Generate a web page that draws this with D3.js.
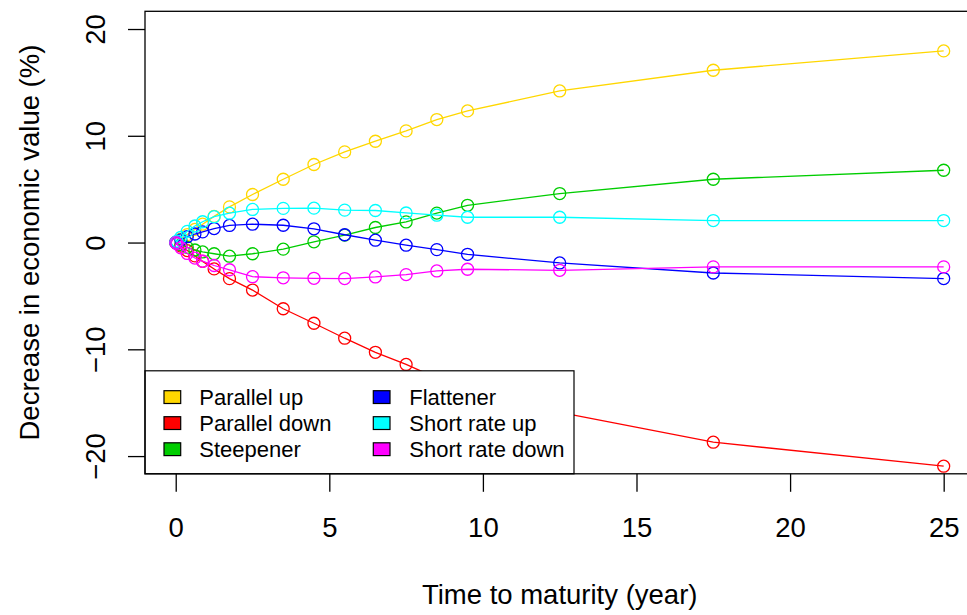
<!DOCTYPE html>
<html>
<head>
<meta charset="utf-8">
<script src="https://cdn.jsdelivr.net/npm/d3@7"></script>
<style>
  html, body { margin: 0; padding: 0; background: #fff; }
  svg { display: block; font-family: "Liberation Sans", Arial, sans-serif; }
</style>
</head>
<body>
<svg id="chart" width="967" height="615"></svg>
<script>
// Time bucket midpoints (years)
const maturities = [0.0028, 0.0417, 0.1667, 0.375, 0.625, 0.875, 1.25, 1.75, 2.5,
                    3.5, 4.5, 5.5, 6.5, 7.5, 8.5, 9.5, 12.5, 17.5, 25];

// Decrease in economic value (%) under each rate shock scenario
const parallelUp    = [0.006, 0.083, 0.33, 0.74, 1.23, 1.72, 2.45, 3.34, 4.5,
                       5.93, 7.31, 8.49, 9.49, 10.46, 11.52, 12.33, 14.2, 16.14, 17.95];
const parallelDown  = [-0.006, -0.084, -0.33, -0.75, -1.25, -1.76, -2.47, -3.38, -4.45,
                       -6.2, -7.56, -8.96, -10.28, -11.42, -12.7, -13.7, -15.9, -18.7, -20.95];
const steepener     = [-0.003, -0.05, -0.2, -0.45, -0.7, -0.88, -1.05, -1.28, -1.05,
                       -0.62, 0.07, 0.7, 1.41, 1.93, 2.76, 3.49, 4.59, 5.93, 6.77];
const flattener     = [0.004, 0.06, 0.25, 0.55, 0.8, 1.0, 1.31, 1.6, 1.72,
                       1.62, 1.29, 0.73, 0.22, -0.25, -0.66, -1.1, -1.91, -2.85, -3.37];
const shortRateUp   = [0.008, 0.125, 0.49, 1.05, 1.55, 1.95, 2.42, 2.75, 3.1,
                       3.2, 3.22, 3.04, 3.0, 2.77, 2.56, 2.37, 2.37, 2.06, 2.06];
const shortRateDown = [-0.008, -0.125, -0.49, -1.02, -1.45, -1.75, -2.15, -2.55, -3.2,
                       -3.3, -3.35, -3.37, -3.22, -3.0, -2.66, -2.5, -2.6, -2.28, -2.28];

const seriesNames  = ["Parallel up", "Parallel down", "Steepener",
                      "Flattener", "Short rate up", "Short rate down"];
const seriesColors = ["#FFD700", "#FF0000", "#00CD00", "#0000FF", "#00FFFF", "#FF00FF"];
const seriesValues = [parallelUp, parallelDown, steepener, flattener, shortRateUp, shortRateDown];

const xTicks = [0, 5, 10, 15, 20, 25];
const yTicks = [-20, -10, 0, 10, 20];

const xTitle = "Time to maturity (year)";
const yTitle = "Decrease in economic value (%)";

const svg = d3.select("#chart");
svg.append("rect").attr("width", 967).attr("height", 615).attr("fill", "#fff");

// Plot region (axis limits padded by 4% of the range on each side)
const plotLeft = 145, plotRight = 974.4, plotTop = 11.3, plotBottom = 473.8;
const x = d3.scaleLinear().domain([-1, 26]).range([plotLeft, plotRight]);
const y = d3.scaleLinear().domain([-21.66, 21.66]).range([plotBottom, plotTop]);

const plot = svg.append("g");
plot.append("clipPath").attr("id", "clip")
  .append("rect").attr("x", plotLeft).attr("y", plotTop)
  .attr("width", plotRight - plotLeft).attr("height", plotBottom - plotTop);

const layer = plot.append("g").attr("clip-path", "url(#clip)");
const line = d3.line().x(d => x(d[0])).y(d => y(d[1]));

seriesValues.forEach((vals, i) => {
  const pts = maturities.map((m, j) => [m, vals[j]]);
  const g = layer.append("g");
  g.append("path")
    .attr("d", line(pts))
    .attr("fill", "none")
    .attr("stroke", seriesColors[i])
    .attr("stroke-width", 1.3);
  g.selectAll("circle").data(pts).enter().append("circle")
    .attr("cx", d => x(d[0]))
    .attr("cy", d => y(d[1]))
    .attr("r", 6)
    .attr("fill", "none")
    .attr("stroke", seriesColors[i])
    .attr("stroke-width", 1.3);
});

// Legend (bottom-left, two columns)
const legend = svg.append("g");
const legW = 429, legH = 103;
legend.append("rect")
  .attr("x", plotLeft).attr("y", plotBottom - legH)
  .attr("width", legW).attr("height", legH)
  .attr("fill", "#fff").attr("stroke", "#000").attr("stroke-width", 1.2);

const rowY = [397.1, 423.1, 449.2];
const colSwatchX = [164, 373.3];
const colTextX = [199.3, 409.3];
seriesNames.forEach((name, i) => {
  const col = Math.floor(i / 3), row = i % 3;
  legend.append("rect")
    .attr("x", colSwatchX[col]).attr("y", rowY[row] - 6.4)
    .attr("width", 16.7).attr("height", 12.8)
    .attr("fill", seriesColors[i]).attr("stroke", "#000").attr("stroke-width", 1.2);
  legend.append("text")
    .attr("x", colTextX[col]).attr("y", rowY[row] + 7.9)
    .attr("font-size", 22)
    .attr("fill", "#000")
    .text(name);
});

// Plot box
svg.append("rect")
  .attr("x", plotLeft).attr("y", plotTop)
  .attr("width", plotRight - plotLeft).attr("height", plotBottom - plotTop)
  .attr("fill", "none").attr("stroke", "#000").attr("stroke-width", 1.3);

// Axes
const xAxis = svg.append("g")
  .attr("transform", `translate(0,${plotBottom})`)
  .call(d3.axisBottom(x).tickValues(xTicks).tickSize(18).tickSizeOuter(0));
xAxis.select(".domain").remove();
xAxis.selectAll("line").attr("stroke", "#000").attr("stroke-width", 1.3);
xAxis.selectAll("text")
  .attr("y", 63).attr("dy", null)
  .attr("font-size", 27.5)
  .attr("font-family", "Liberation Sans, Arial, sans-serif")
  .attr("fill", "#000");

const yAxis = svg.append("g")
  .attr("transform", `translate(${plotLeft},0)`)
  .call(d3.axisLeft(y).tickValues(yTicks).tickSize(17).tickSizeOuter(0));
yAxis.select(".domain").remove();
yAxis.selectAll("line").attr("stroke", "#000").attr("stroke-width", 1.3);
yAxis.selectAll("text")
  .attr("x", 0).attr("y", 0).attr("dy", null)
  .attr("text-anchor", "middle")
  .attr("transform", "translate(-40,0) rotate(-90)")
  .attr("font-size", 27.5)
  .attr("font-family", "Liberation Sans, Arial, sans-serif")
  .attr("fill", "#000");

// Axis titles
svg.append("text")
  .attr("x", (plotLeft + plotRight) / 2).attr("y", 604)
  .attr("text-anchor", "middle")
  .attr("font-size", 27.5)
  .attr("fill", "#000")
  .text(xTitle);

svg.append("text")
  .attr("transform", `translate(39,${(plotTop + plotBottom) / 2}) rotate(-90)`)
  .attr("text-anchor", "middle")
  .attr("font-size", 27.5)
  .attr("fill", "#000")
  .text(yTitle);
</script>
</body>
</html>
